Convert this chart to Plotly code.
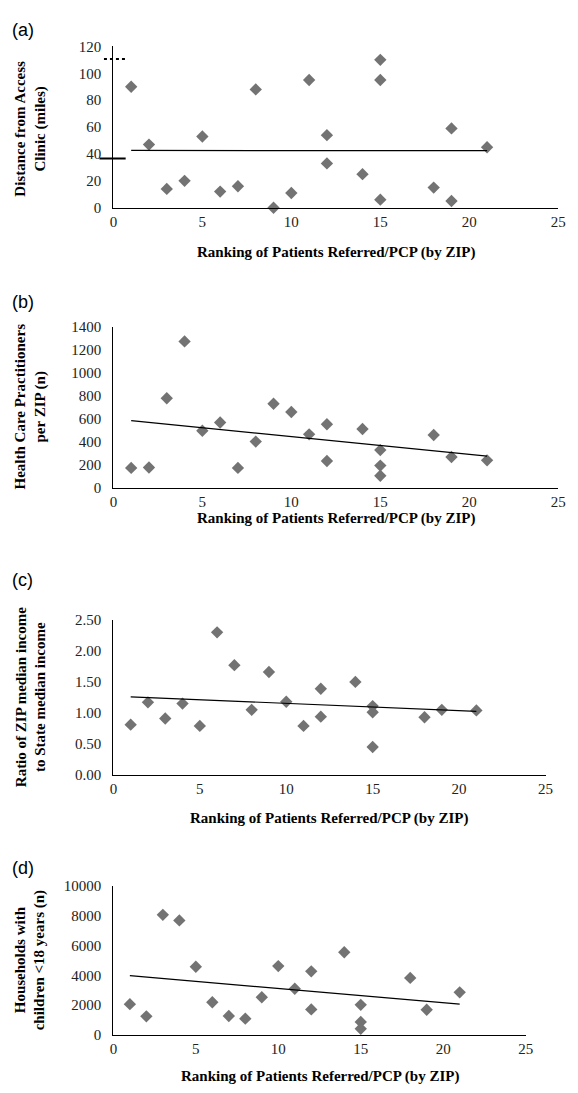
import numpy as np
import plotly.graph_objects as go

W, H = 578, 1093

# ---------------- data ----------------
rank_a = [1, 2, 3, 4, 5, 6, 7, 8, 9, 10, 11, 12, 12, 14, 15, 15, 15, 18, 19, 19, 21]
dist_a = [90, 47, 14, 20, 53, 12, 16, 88, 0, 11, 95, 54, 33, 25, 110, 95, 6, 15, 59, 5, 45]

rank_b = [1, 2, 3, 4, 5, 6, 7, 8, 9, 10, 11, 12, 12, 14, 15, 15, 15, 18, 19, 21]
hcp_b = [171, 175, 777, 1271, 494, 566, 171, 400, 729, 657, 463, 551, 231, 509, 326, 191, 103, 457, 266, 237]

rank_c = [1, 2, 3, 4, 5, 6, 7, 8, 9, 10, 11, 12, 12, 14, 15, 15, 15, 18, 19, 21]
ratio_c = [0.81, 1.17, 0.91, 1.15, 0.79, 2.30, 1.77, 1.05, 1.66, 1.18, 0.79, 1.39, 0.94, 1.50, 1.11, 1.01, 0.45, 0.93, 1.05, 1.04]

rank_d = [1, 2, 3, 4, 5, 6, 7, 8, 9, 10, 11, 12, 12, 14, 15, 15, 15, 18, 19, 21]
hh_d = [2070, 1256, 8062, 7687, 4581, 2203, 1278, 1101, 2533, 4626, 3106, 4273, 1718, 5551, 2026, 881, 419, 3833, 1696, 2863]

ref_marks_a = [(110.7, "dot"), (36.7, "solid")]

x_ticks = [0, 5, 10, 15, 20, 25]
y_ticks_a = [0, 20, 40, 60, 80, 100, 120]
y_ticks_b = [0, 200, 400, 600, 800, 1000, 1200, 1400]
y_ticks_c = [0, 0.5, 1.0, 1.5, 2.0, 2.5]
y_ticks_d = [0, 2000, 4000, 6000, 8000, 10000]

x_title = "Ranking of Patients Referred/PCP (by ZIP)"
y_titles = [
    "Distance from Access<br>Clinic (miles)",
    "Health Care Practitioners<br>per ZIP (n)",
    "Ratio of ZIP median income<br>to State median income",
    "Households with<br>children &lt;18 years (n)",
]
panel_labels = ["(a)", "(b)", "(c)", "(d)"]

boxes = [
    (111.7, 566.0, 39.0, 202.7),
    (111.7, 566.0, 323.3, 486.7),
    (111.7, 553.0, 621.0, 778.3),
    (111.7, 532.7, 891.0, 1042.3),
]
label_y = [22, 298, 580, 873]
ytitle_y = [122, 404, 699, 966]
xtitle_y = [248, 518, 823, 1084]

def px_x(p):
    return p / W

def px_y(p):
    return 1 - p / H

SERIF = "Liberation Serif, Times New Roman, serif"
SANS = "Liberation Sans, Arial, sans-serif"
GRAY = "#737373"

datasets = [
    (rank_a, dist_a, y_ticks_a, None),
    (rank_b, hcp_b, y_ticks_b, "d"),
    (rank_c, ratio_c, y_ticks_c, ".2f"),
    (rank_d, hh_d, y_ticks_d, "d"),
]

fig = go.Figure()
annotations = []
shapes = []
layout_axes = {}

for i, ((xs, ys, yt, fmt), box) in enumerate(zip(datasets, boxes)):
    n = "" if i == 0 else str(i + 1)
    xa, ya = "x" + n, "y" + n
    l, r, t, b = box
    fig.add_trace(go.Scatter(
        x=xs, y=ys, mode="markers", xaxis=xa, yaxis=ya,
        marker=dict(symbol="diamond", size=9.5, color=GRAY, line=dict(width=0)),
        cliponaxis=False, showlegend=False, hoverinfo="x+y",
    ))
    slope, icpt = np.polyfit(xs, ys, 1)
    tx = [min(xs), max(xs)]
    fig.add_trace(go.Scatter(
        x=tx, y=[slope * v + icpt for v in tx], mode="lines", xaxis=xa, yaxis=ya,
        line=dict(color="black", width=1.2), showlegend=False, hoverinfo="skip",
    ))
    layout_axes["xaxis" + n] = dict(
        domain=[px_x(l), px_x(r)], anchor=ya, range=[0, 25],
        tickvals=x_ticks, showline=True, linecolor="black", linewidth=1.3,
        showgrid=False, zeroline=False, ticks="",
        tickfont=dict(family=SERIF, size=15, color="#222"),
        ticklabelstandoff=0,
    )
    layout_axes["yaxis" + n] = dict(
        domain=[px_y(b), px_y(t)], anchor=xa, range=[yt[0], yt[-1]],
        tickvals=yt, showline=True, linecolor="black", linewidth=1.3,
        showgrid=False, zeroline=False, ticks="",
        tickfont=dict(family=SERIF, size=15, color="#222"),
        ticklabelstandoff=8,
        **({"tickformat": fmt} if fmt else {}),
    )
    annotations.append(dict(
        text=panel_labels[i], xref="paper", yref="paper",
        x=px_x(6), y=px_y(label_y[i]), xanchor="left", yanchor="middle",
        showarrow=False, font=dict(family=SANS, size=18, color="black"),
    ))
    annotations.append(dict(
        text="<b>" + y_titles[i] + "</b>", xref="paper", yref="paper",
        x=px_x(27), y=px_y(ytitle_y[i]), xanchor="center", yanchor="middle",
        textangle=-90, showarrow=False,
        font=dict(family=SERIF, size=15, color="black"),
    ))
    annotations.append(dict(
        text="<b>" + x_title + "</b>", xref="paper", yref="paper",
        x=px_x((l + r) / 2), y=px_y(xtitle_y[i]), xanchor="center", yanchor="middle",
        showarrow=False, font=dict(family=SERIF, size=15, color="black"),
    ))

for val, dash in ref_marks_a:
    x0 = -0.53 if dash == "dot" else -0.78
    shapes.append(dict(
        type="line", xref="x domain", yref="y",
        x0=x0 / 25, x1=0.69 / 25, y0=val, y1=val,
        line=dict(color="black", width=2, dash=dash),
    ))

fig.update_layout(
    width=W, height=H, margin=dict(l=0, r=0, t=0, b=0),
    paper_bgcolor="white", plot_bgcolor="white",
    annotations=annotations, shapes=shapes, showlegend=False,
    **layout_axes,
)

fig.write_html(
    "out.html",
    config={"displayModeBar": False},
    post_script="document.body.style.margin='0';document.body.style.overflow='hidden';",
)
